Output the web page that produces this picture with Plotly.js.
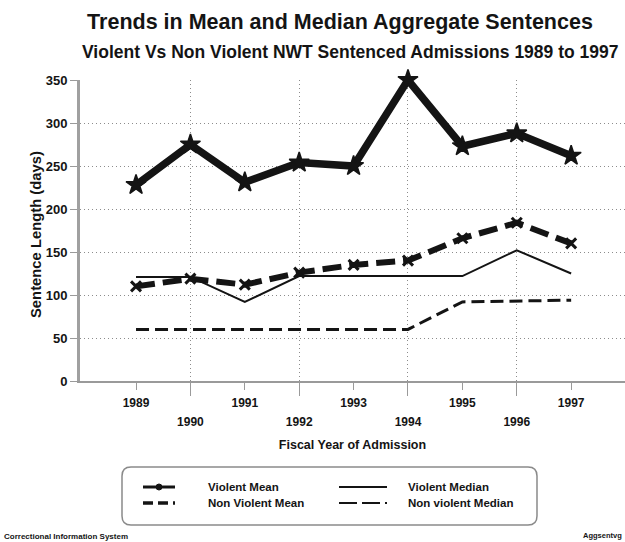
<!DOCTYPE html>
<html>
<head>
<meta charset="utf-8">
<script src="https://cdn.plot.ly/plotly-3.0.1.min.js"></script>
<style>
  html, body { margin: 0; padding: 0; background: #fff; }
  #chart { width: 625px; height: 542px; }
</style>
</head>
<body>
<div id="chart"></div>
<script>
// Fiscal years of admission
const years = [1989, 1990, 1991, 1992, 1993, 1994, 1995, 1996, 1997];
const oddYears = [1989, 1991, 1993, 1995, 1997];
const evenYears = [1990, 1992, 1994, 1996];
const oddLabels = ['1989', '1991', '1993', '1995', '1997'];
const evenLabels = ['1990', '1992', '1994', '1996'];

// Sentence length in days
const violentMean = [228, 275, 231, 254, 250, 350, 273, 288, 262];
const nonViolentMean = [110, 119, 112, 126, 135, 140, 166, 184, 160];
const violentMedian = [121, 121, 92, 122, 122, 122, 122, 152, 125];
const nonViolentMedian = [60, 60, 60, 60, 60, 60, 92, 93, 94];

const yTicks = [0, 50, 100, 150, 200, 250, 300, 350];

const seriesNames = ['Violent Mean', 'Violent Median', 'Non Violent Mean', 'Non violent Median'];

const ink = '#141414';
const gridGrey = '#8c8c8c';
const FONT = '"Liberation Sans", Arial, Helvetica, sans-serif';

// Page geometry (pixels) of the plotting area
const W = 625, H = 542;
const M = { l: 80, r: 0, t: 80, b: 161 };
const PW = W - M.l - M.r, PH = H - M.t - M.b;
const px2x = px => (px - M.l) / PW;
const px2y = py => (H - M.b - py) / PH;

const traces = [
  {
    x: years, y: violentMean, name: seriesNames[0], type: 'scatter', mode: 'lines+markers',
    cliponaxis: false,
    line: { color: ink, width: 7.5 },
    marker: { symbol: 'star', size: 15, color: ink, line: { color: ink, width: 1.5 } }
  },
  {
    x: years, y: violentMedian, name: seriesNames[1], type: 'scatter', mode: 'lines',
    xaxis: 'x2',
    line: { color: ink, width: 2 }
  },
  {
    x: years, y: nonViolentMean, name: seriesNames[2], type: 'scatter', mode: 'lines+markers',
    line: { color: ink, width: 6, dash: '19px,8px' },
    marker: { symbol: 'x-thin', size: 10, color: ink, line: { color: ink, width: 3 } }
  },
  {
    x: years, y: nonViolentMedian, name: seriesNames[3], type: 'scatter', mode: 'lines',
    xaxis: 'x2',
    line: { color: ink, width: 3, dash: '13px,6px' }
  }
];

// Hand-built legend box underneath the chart
const legendSlots = [
  { sx0: 143, sx1: 175, tx: 206, y: 487 },
  { sx0: 339, sx1: 387, tx: 406, y: 487 },
  { sx0: 143, sx1: 175, tx: 206, y: 503 },
  { sx0: 339, sx1: 387, tx: 406, y: 503 }
];
const legendStyles = [
  { width: 3, dash: 'solid', dot: true },
  { width: 1.8, dash: 'solid' },
  { width: 3.5, dash: '10px,5px' },
  { width: 2, dash: '18px,5px' }
];

function roundedRect(x0, y0, x1, y1, r) {
  const P = (x, y) => px2x(x).toFixed(5) + ',' + px2y(y).toFixed(5);
  return 'M ' + P(x0 + r, y0) + ' L ' + P(x1 - r, y0) + ' Q ' + P(x1, y0) + ' ' + P(x1, y0 + r) +
    ' L ' + P(x1, y1 - r) + ' Q ' + P(x1, y1) + ' ' + P(x1 - r, y1) +
    ' L ' + P(x0 + r, y1) + ' Q ' + P(x0, y1) + ' ' + P(x0, y1 - r) +
    ' L ' + P(x0, y0 + r) + ' Q ' + P(x0, y0) + ' ' + P(x0 + r, y0) + ' Z';
}

const shapes = [
  {
    type: 'path', xref: 'paper', yref: 'paper',
    path: roundedRect(122, 467, 537, 525, 9),
    line: { color: '#8a8a8a', width: 1.5 }, fillcolor: 'rgba(0,0,0,0)'
  }
];
const annotations = [];

seriesNames.forEach((name, i) => {
  const s = legendSlots[i], st = legendStyles[i];
  shapes.push({
    type: 'line', xref: 'paper', yref: 'paper',
    x0: px2x(s.sx0), x1: px2x(s.sx1), y0: px2y(s.y), y1: px2y(s.y),
    line: { color: ink, width: st.width, dash: st.dash }
  });
  if (st.dot) {
    const cx = (s.sx0 + s.sx1) / 2;
    shapes.push({
      type: 'circle', xref: 'paper', yref: 'paper',
      x0: px2x(cx - 3), x1: px2x(cx + 3), y0: px2y(s.y - 3), y1: px2y(s.y + 3),
      line: { color: ink, width: 1 }, fillcolor: ink
    });
  }
  annotations.push({
    text: name, xref: 'paper', yref: 'paper', x: px2x(s.tx), y: px2y(s.y),
    xanchor: 'left', yanchor: 'middle', showarrow: false,
    font: { family: FONT, size: 11.5, weight: 'bold', color: ink }
  });
});

annotations.push(
  {
    text: 'Violent Vs Non Violent NWT Sentenced Admissions 1989 to 1997',
    xref: 'paper', yref: 'paper', x: px2x(350), y: px2y(52), xanchor: 'center', yanchor: 'middle',
    showarrow: false, font: { family: FONT, size: 17.5, weight: 'bold', color: ink }
  },
  {
    text: 'Sentence Length (days)',
    xref: 'paper', yref: 'paper', x: px2x(36), y: px2y(235), xanchor: 'center', yanchor: 'middle',
    textangle: -90, showarrow: false,
    font: { family: FONT, size: 14.8, weight: 'bold', color: ink }
  },
  {
    text: 'Correctional Information System',
    xref: 'paper', yref: 'paper', x: px2x(2), y: px2y(536), xanchor: 'left', yanchor: 'middle',
    showarrow: false, font: { family: FONT, size: 8, weight: 'bold', color: ink }
  },
  {
    text: 'Aggsentvg',
    xref: 'paper', yref: 'paper', x: px2x(624), y: px2y(535), xanchor: 'right', yanchor: 'middle',
    showarrow: false, font: { family: FONT, size: 7.5, weight: 'bold', color: ink }
  }
);

const xRange = [1987.97, 1997.99];

const layout = {
  width: W, height: H,
  margin: M,
  paper_bgcolor: '#fff', plot_bgcolor: '#fff',
  font: { family: FONT, color: ink, size: 12, weight: 'bold' },
  showlegend: false,
  title: {
    text: 'Trends in Mean and Median Aggregate Sentences',
    font: { family: FONT, size: 21.5, weight: 'bold', color: ink },
    xref: 'container', yref: 'container',
    x: 340 / W, xanchor: 'center', y: 1 - 21 / H, yanchor: 'middle'
  },
  annotations: annotations,
  shapes: shapes,
  xaxis: {
    range: xRange, type: 'linear',
    tickvals: oddYears, ticktext: oddLabels,
    ticks: 'outside', ticklen: 7, tickwidth: 1, tickcolor: '#9a9a9a',
    ticklabelstandoff: 3,
    showgrid: false, zeroline: false,
    showline: true, linecolor: '#9a9a9a', linewidth: 2,
    tickfont: { family: FONT, size: 12, weight: 'bold', color: ink },
    title: {
      text: 'Fiscal Year of Admission', standoff: 31,
      font: { family: FONT, size: 12.5, weight: 'bold', color: ink }
    }
  },
  xaxis2: {
    range: xRange, type: 'linear', overlaying: 'x', anchor: 'y', side: 'bottom',
    tickvals: evenYears, ticktext: evenLabels,
    ticks: 'outside', ticklen: 14, tickwidth: 1, tickcolor: '#9a9a9a',
    ticklabelstandoff: 16,
    showgrid: true, gridcolor: gridGrey, gridwidth: 1, griddash: '1px,3px',
    zeroline: false, showline: false,
    tickfont: { family: FONT, size: 12, weight: 'bold', color: ink }
  },
  yaxis: {
    range: [0, 350], tickvals: yTicks,
    ticks: 'outside', ticklen: 7, tickwidth: 1, tickcolor: '#9a9a9a',
    showgrid: true, gridcolor: gridGrey, gridwidth: 1, griddash: '1px,3px',
    zeroline: false, showline: true, linecolor: '#a0a0a0', linewidth: 3,
    tickfont: { family: FONT, size: 13, weight: 'bold', color: ink }
  }
};

Plotly.newPlot('chart', traces, layout, { displayModeBar: false, staticPlot: true });
</script>
</body>
</html>
